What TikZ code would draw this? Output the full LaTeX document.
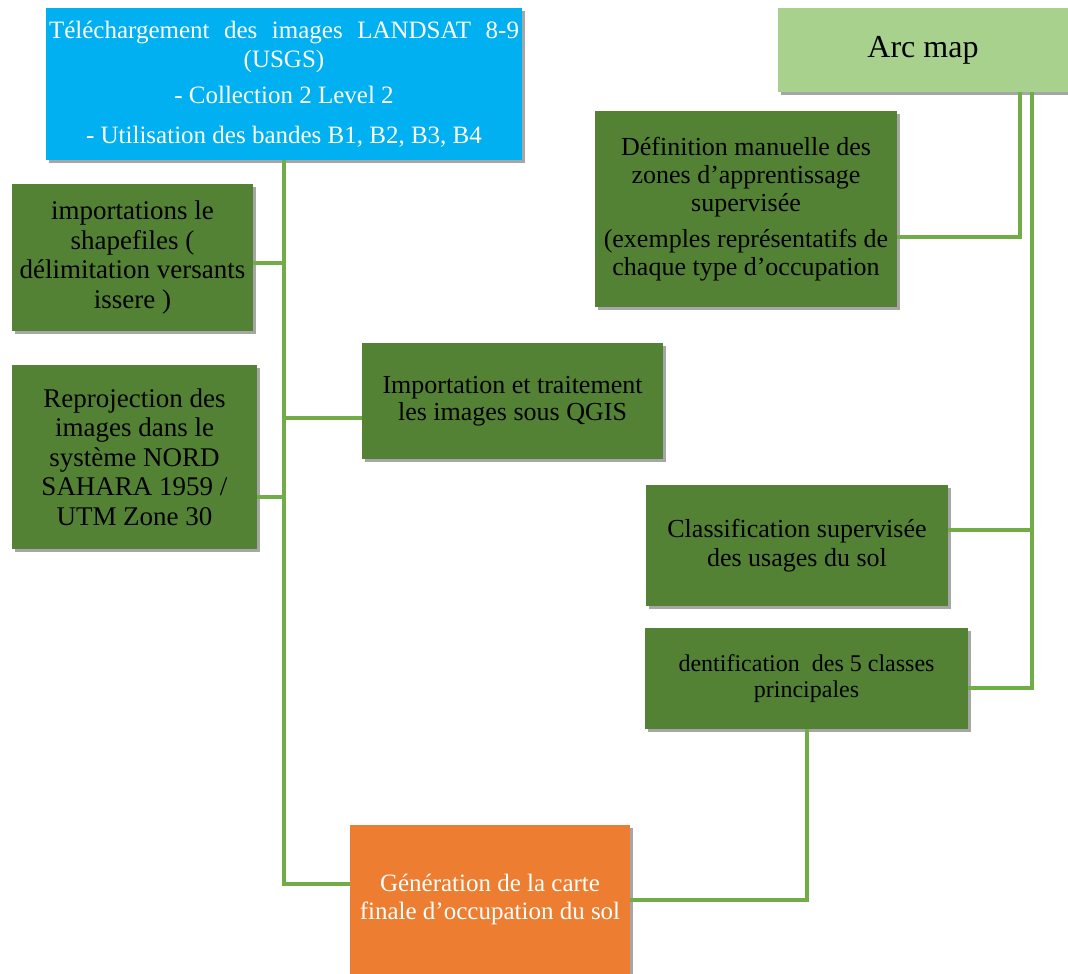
\documentclass[tikz,border=0pt]{standalone}
\usepackage{fontspec}
\setmainfont{Liberation Serif}
\usetikzlibrary{shadows}
\definecolor{cblue}{HTML}{00B0F0}
\definecolor{clg}{HTML}{A9D18E}
\definecolor{cdg}{HTML}{548235}
\definecolor{cor}{HTML}{ED7D31}
\definecolor{cline}{HTML}{70AD47}
\tikzset{
  box/.style={rectangle, inner sep=2pt, align=center,
    drop shadow={shadow xshift=2.5pt, shadow yshift=-3pt, opacity=0.35, fill=black}},
  dgbox/.style={box, fill=cdg, text=black},
  conn/.style={draw=cline, line width=4pt}
}
\begin{document}
\begin{tikzpicture}[x=1pt, y=-1pt]
\useasboundingbox (0,0) rectangle (1068,974);

\node[box, fill=cblue, text=white, minimum width=476pt, minimum height=152pt,
  font=\fontsize{25}{29}\selectfont] (blue) at (284,84)
  {\makebox[470pt][s]{Téléchargement des images LANDSAT 8-9}\\ (USGS)\\[7pt]
   - Collection 2 Level 2\\[11pt] - Utilisation des bandes B1, B2, B3, B4};

\node[box, fill=clg, text=black, minimum width=290pt, minimum height=84pt,
  font=\fontsize{32}{36}\selectfont] (arc) at (923,50) {Arc map};

\node[dgbox, minimum width=241pt, minimum height=147pt,
  font=\fontsize{27}{29.5}\selectfont] (imp) at (132.5,257.5)
  {importations le\\ shapefiles (\\ délimitation versants\\ issere )};

\node[dgbox, minimum width=245pt, minimum height=184pt,
  font=\fontsize{27}{29.5}\selectfont] (rep) at (134.5,457)
  {Reprojection des\\ images dans le\\ système NORD\\ SAHARA 1959 /\\ UTM Zone 30};

\node[dgbox, minimum width=301pt, minimum height=116pt,
  font=\fontsize{26}{27}\selectfont] (qgis) at (512.5,401)
  {Importation et traitement\\ les images  sous QGIS};

\node[dgbox, minimum width=302pt, minimum height=196pt,
  font=\fontsize{26}{28}\selectfont] (def) at (746,209)
  {Définition manuelle des\\ zones d’apprentissage\\ supervisée\\[8pt]
   (exemples représentatifs de\\ chaque type d’occupation};

\node[dgbox, minimum width=302pt, minimum height=121pt,
  font=\fontsize{26}{29}\selectfont] (cls) at (797,545.5)
  {Classification supervisée\\ des usages du sol};

\node[dgbox, minimum width=323pt, minimum height=101pt,
  font=\fontsize{24}{26}\selectfont] (den) at (806.5,678.5)
  {dentification\ \ des 5 classes\\ principales};

\node[box, fill=cor, text=white, minimum width=280pt, minimum height=149pt,
  font=\fontsize{25}{28}\selectfont] (gen) at (490,899.5)
  {Génération de la carte\\ finale d’occupation du sol};

% left trunk
\draw[conn] (blue.south) |- ([yshift=15.5pt]gen.west);
\draw[conn] ([yshift=-5.5pt]imp.east) -- ([yshift=-5.5pt]imp.east -| blue.south);
\draw[conn] ([yshift=-40pt]rep.east) -- ([yshift=-40pt]rep.east -| blue.south);
\draw[conn] ([yshift=-17pt]qgis.west) -- ([yshift=-17pt]qgis.west -| blue.south);

% right side
\coordinate (a1) at ([xshift=97pt]arc.south);
\coordinate (a2) at ([xshift=109pt]arc.south);
\draw[conn] (a1) |- ([yshift=-28pt]def.east);
\draw[conn] (a2) |- ([yshift=-9.5pt]den.east);
\draw[conn] ([yshift=15.5pt]cls.east) -- ([yshift=15.5pt]cls.east -| a2);
\draw[conn] (den.south) |- (gen.east);
\end{tikzpicture}
\end{document}
